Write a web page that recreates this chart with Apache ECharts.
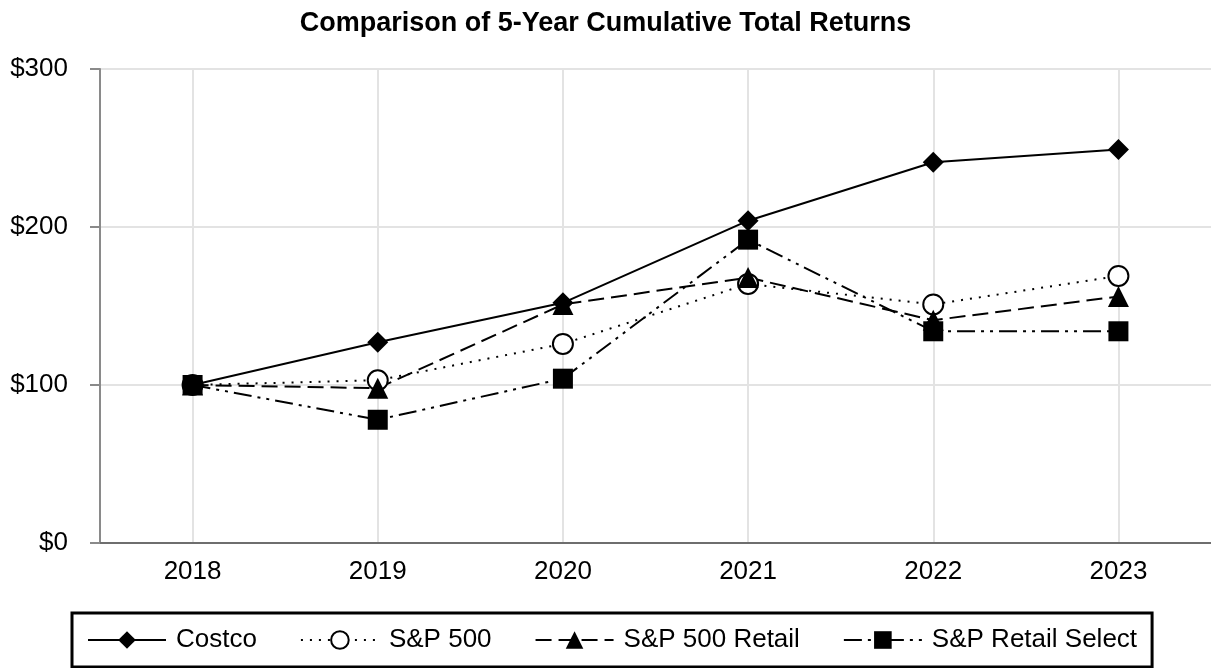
<!DOCTYPE html>
<html>
<head>
<meta charset="utf-8">
<script src="https://cdn.jsdelivr.net/npm/echarts@6/dist/echarts.min.js"></script>
<style>
  html, body { margin: 0; padding: 0; background: #fff; }
  #chart { width: 1211px; height: 668px; }
</style>
</head>
<body>
<div id="chart"></div>
<script>
var years = ["2018", "2019", "2020", "2021", "2022", "2023"];
var costco = [100, 127, 152, 204, 241, 249];
var sp500 = [100, 103, 126, 164, 151, 169];
var spRetail = [100, 98, 151, 168, 141, 156];
var spRetailSelect = [100, 78, 104, 192, 134, 134];
var yTicks = { min: 0, max: 300, step: 100 };

var font = "'Liberation Sans', Arial, sans-serif";

function makeSeries(name, data, symbol, size, dash, fill) {
    return {
        name: name,
        type: "line",
        data: data,
        symbol: symbol,
        symbolSize: size,
        showSymbol: true,
        lineStyle: { color: "#000", width: 2, type: dash },
        itemStyle: { color: fill, borderColor: "#000", borderWidth: fill == "#fff" ? 2 : 0 },
        emphasis: { disabled: true },
        animation: false
    };
}

var chart = echarts.init(document.getElementById("chart"));
chart.setOption({
    backgroundColor: "#fff",
    textStyle: { fontFamily: font },
    title: {
        text: "Comparison of 5-Year Cumulative Total Returns",
        left: "center",
        top: 5,
        textStyle: { fontFamily: font, fontSize: 27, fontWeight: "bold", color: "#000" }
    },
    grid: { left: 100, top: 69, width: 1116, height: 474 },
    xAxis: {
        type: "category",
        data: years,
        boundaryGap: true,
        axisLine: { lineStyle: { color: "#6e6e6e", width: 2 } },
        axisTick: { alignWithLabel: true, length: 10, lineStyle: { color: "#6e6e6e", width: 2 } },
        axisLabel: { fontSize: 26, color: "#000", margin: 16, fontFamily: font },
        splitLine: { show: true, alignWithLabel: true, lineStyle: { color: "#e3e3e3", width: 2 } }
    },
    yAxis: {
        type: "value",
        min: yTicks.min,
        max: yTicks.max,
        interval: yTicks.step,
        axisLine: { show: true, lineStyle: { color: "#8a8a8a", width: 2 } },
        axisTick: { show: true, length: 10, lineStyle: { color: "#8a8a8a", width: 2 } },
        axisLabel: {
            fontSize: 26, color: "#000", margin: 32, fontFamily: font,
            formatter: function (v) { return "$" + v; }
        },
        splitLine: { lineStyle: { color: "#e3e3e3", width: 2 } }
    },
    legend: {
        left: 72,
        top: 613,
        padding: [14, 15, 14, 15],
        borderColor: "#000",
        borderWidth: 3,
        itemWidth: 78,
        itemHeight: 22,
        itemGap: 43,
        textStyle: { fontSize: 26, color: "#000", fontFamily: font, padding: [0, 0, 0, 5] },
        data: ["Costco", "S&P 500", "S&P 500 Retail", "S&P Retail Select"]
    },
    series: [
        makeSeries("Costco", costco, "diamond", 21, "solid", "#000"),
        makeSeries("S&P 500", sp500, "circle", 20, [2, 7], "#fff"),
        makeSeries("S&P 500 Retail", spRetail, "triangle", 21, [16, 7], "#000"),
        makeSeries("S&P Retail Select", spRetailSelect, "rect", 20, [18, 6, 3, 6, 3, 6], "#000")
    ]
});
</script>
</body>
</html>
